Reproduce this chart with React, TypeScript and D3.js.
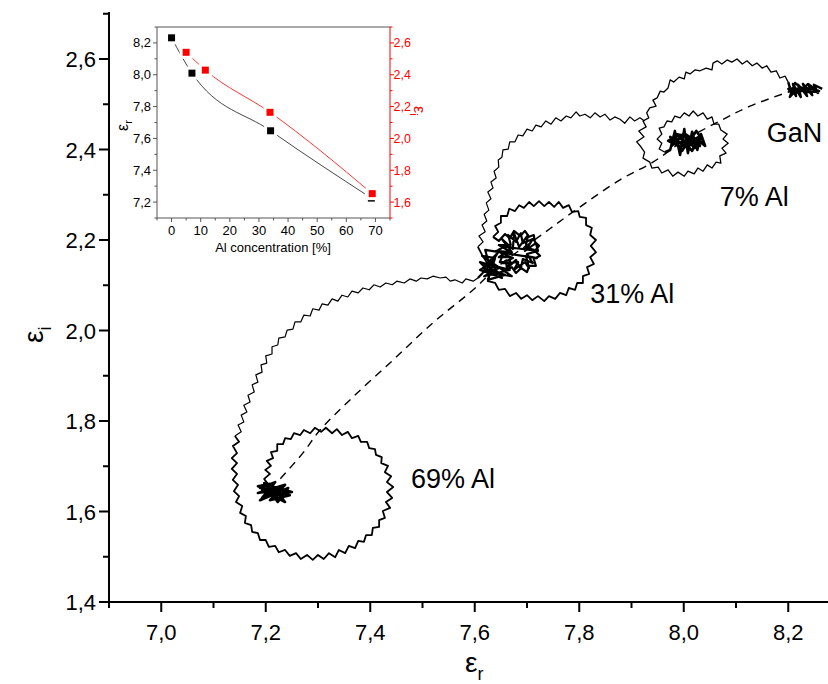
import React from 'react';
import * as d3 from 'd3';

const W = 828;
const H = 684;

// main plot traces, [eps_r, eps_i]
const ganCluster: [number, number][] = [
  [8.265, 2.534], [8.249, 2.543], [8.257, 2.525], [8.240, 2.540], [8.246, 2.520], [8.228, 2.545],
  [8.236, 2.518], [8.219, 2.543], [8.224, 2.516], [8.209, 2.545], [8.215, 2.518], [8.202, 2.540],
  [8.207, 2.523], [8.200, 2.534], [8.223, 2.532], [8.244, 2.536], [8.259, 2.529], [8.234, 2.527],
  [8.217, 2.534], [8.203, 2.516], [8.213, 2.547], [8.230, 2.532], [8.251, 2.534], [8.238, 2.545],
  [8.221, 2.525], [8.205, 2.529], [8.200, 2.549],
];

const ganTo7: [number, number][] = [
  [8.200, 2.549],
  [8.194, 2.562], [8.184, 2.558], [8.177, 2.574], [8.167, 2.571], [8.159, 2.585], [8.150, 2.580],
  [8.140, 2.591], [8.131, 2.585], [8.121, 2.596], [8.112, 2.589], [8.102, 2.600], [8.092, 2.593],
  [8.083, 2.598], [8.073, 2.589], [8.064, 2.596], [8.056, 2.591], [8.054, 2.576], [8.043, 2.580],
  [8.031, 2.574], [8.022, 2.576], [8.012, 2.567], [8.004, 2.571], [8.001, 2.556], [7.991, 2.560],
  [7.981, 2.549], [7.974, 2.554], [7.970, 2.536], [7.962, 2.527], [7.955, 2.529], [7.949, 2.514],
  [7.941, 2.509], [7.947, 2.496], [7.935, 2.492], [7.929, 2.481], [7.933, 2.470], [7.922, 2.463],
  [7.928, 2.450], [7.914, 2.441], [7.924, 2.428], [7.910, 2.417], [7.918, 2.406], [7.925, 2.394],
  [7.922, 2.381], [7.935, 2.372], [7.939, 2.359], [7.951, 2.361], [7.958, 2.348], [7.970, 2.355],
  [7.979, 2.341], [7.989, 2.350], [8.001, 2.341], [8.008, 2.352], [8.020, 2.346], [8.027, 2.359],
  [8.037, 2.352], [8.045, 2.366], [8.054, 2.359], [8.062, 2.372], [8.071, 2.370], [8.069, 2.386],
  [8.081, 2.392], [8.073, 2.403], [8.085, 2.414], [8.075, 2.423], [8.083, 2.434], [8.071, 2.443],
  [8.067, 2.456], [8.058, 2.456], [8.054, 2.472], [8.045, 2.467], [8.037, 2.481], [8.027, 2.474],
  [8.018, 2.485], [8.010, 2.474], [8.001, 2.481], [7.993, 2.470], [7.983, 2.474], [7.977, 2.461],
  [7.968, 2.463], [7.962, 2.450], [7.953, 2.447], [7.958, 2.434], [7.949, 2.423], [7.958, 2.414],
  [7.953, 2.401], [7.964, 2.394],
];

const cluster7: [number, number][] = [
  [7.964, 2.394],
  [7.974, 2.399], [7.983, 2.441], [7.993, 2.388], [8.001, 2.445], [8.008, 2.392], [8.016, 2.439],
  [8.026, 2.399], [8.033, 2.434], [8.041, 2.408], [8.027, 2.421], [8.012, 2.410], [7.993, 2.425],
  [7.977, 2.408], [7.985, 2.434], [8.004, 2.430], [8.020, 2.403], [8.037, 2.419], [8.024, 2.441],
  [8.004, 2.406], [7.989, 2.417], [7.974, 2.428], [7.997, 2.397], [8.012, 2.425], [8.031, 2.408],
  [8.008, 2.419], [7.981, 2.414], [8.001, 2.436], [8.020, 2.421], [7.993, 2.406], [7.970, 2.419],
  [7.989, 2.432], [8.016, 2.397], [8.029, 2.428], [8.004, 2.414],
];

const arc7To31: [number, number][] = [
  [7.925, 2.463], [7.916, 2.470], [7.906, 2.463], [7.897, 2.472], [7.887, 2.458], [7.878, 2.467],
  [7.868, 2.472], [7.859, 2.465], [7.849, 2.478], [7.840, 2.472], [7.830, 2.481], [7.821, 2.470],
  [7.811, 2.478], [7.801, 2.474], [7.794, 2.483], [7.784, 2.470], [7.775, 2.474], [7.765, 2.463],
  [7.755, 2.470], [7.746, 2.456], [7.736, 2.463], [7.727, 2.450], [7.717, 2.454], [7.710, 2.441],
  [7.700, 2.445], [7.692, 2.430], [7.683, 2.432], [7.677, 2.417], [7.667, 2.417], [7.664, 2.401],
  [7.654, 2.399], [7.652, 2.383], [7.645, 2.377], [7.646, 2.361], [7.637, 2.352], [7.641, 2.337],
  [7.631, 2.328], [7.635, 2.315], [7.625, 2.306], [7.631, 2.291], [7.622, 2.282], [7.627, 2.266],
  [7.618, 2.257], [7.623, 2.242], [7.614, 2.233], [7.620, 2.218], [7.608, 2.209], [7.616, 2.196],
  [7.606, 2.185],
];

const loop31: [number, number][] = [
  [7.606, 2.185],
  [7.614, 2.167], [7.623, 2.151], [7.616, 2.138], [7.629, 2.125], [7.625, 2.109], [7.639, 2.105],
  [7.646, 2.090], [7.658, 2.092], [7.667, 2.076], [7.679, 2.083], [7.689, 2.070], [7.700, 2.078],
  [7.710, 2.067], [7.721, 2.076], [7.733, 2.065], [7.742, 2.076], [7.754, 2.070], [7.763, 2.083],
  [7.775, 2.078], [7.780, 2.094], [7.792, 2.090], [7.796, 2.105], [7.807, 2.105], [7.807, 2.120],
  [7.819, 2.125], [7.815, 2.140], [7.828, 2.147], [7.821, 2.162], [7.832, 2.173], [7.822, 2.187],
  [7.832, 2.200], [7.821, 2.211], [7.824, 2.227], [7.813, 2.233], [7.813, 2.249], [7.801, 2.251],
  [7.798, 2.264], [7.786, 2.262], [7.780, 2.277], [7.769, 2.271], [7.761, 2.284], [7.752, 2.273],
  [7.742, 2.284], [7.733, 2.275], [7.723, 2.286], [7.713, 2.275], [7.704, 2.284], [7.694, 2.271],
  [7.685, 2.277], [7.677, 2.264], [7.666, 2.269], [7.662, 2.253], [7.650, 2.253], [7.650, 2.238],
  [7.639, 2.231], [7.645, 2.218], [7.635, 2.207],
];

const core31: [number, number][] = [
  [7.635, 2.207],
  [7.646, 2.198], [7.658, 2.213], [7.667, 2.204], [7.675, 2.220], [7.687, 2.209], [7.696, 2.220],
  [7.704, 2.207], [7.713, 2.211], [7.715, 2.196], [7.723, 2.187], [7.715, 2.176], [7.725, 2.165],
  [7.713, 2.158], [7.717, 2.143], [7.704, 2.143], [7.700, 2.129], [7.689, 2.138], [7.679, 2.127],
  [7.671, 2.140], [7.662, 2.134], [7.660, 2.151], [7.648, 2.151], [7.654, 2.167], [7.645, 2.178],
  [7.656, 2.185],
  [7.721, 2.176], [7.700, 2.182], [7.711, 2.202], [7.692, 2.193], [7.688, 2.215], [7.679, 2.196],
  [7.664, 2.211], [7.669, 2.189], [7.646, 2.189], [7.665, 2.176], [7.646, 2.162], [7.669, 2.162],
  [7.664, 2.140], [7.679, 2.156], [7.688, 2.136], [7.692, 2.158], [7.711, 2.149], [7.700, 2.169],
  [7.721, 2.176], [7.717, 2.193], [7.696, 2.176], [7.702, 2.211], [7.685, 2.185], [7.675, 2.215],
  [7.673, 2.180], [7.652, 2.202], [7.671, 2.173], [7.641, 2.176], [7.673, 2.160], [7.652, 2.149],
  [7.683, 2.151], [7.675, 2.134], [7.696, 2.151], [7.704, 2.138], [7.698, 2.165], [7.719, 2.160],
  [7.620, 2.178], [7.633, 2.123], [7.610, 2.151], [7.648, 2.138], [7.622, 2.129], [7.671, 2.120],
  [7.614, 2.165], [7.639, 2.160], [7.625, 2.112], [7.658, 2.123], [7.616, 2.138], [7.645, 2.173],
  [7.629, 2.145], [7.667, 2.134], [7.618, 2.120], [7.641, 2.134], [7.623, 2.160], [7.652, 2.116],
  [7.610, 2.134], [7.635, 2.151], [7.606, 2.116],
];

const arc31To69: [number, number][] = [
  [7.606, 2.116], [7.597, 2.109], [7.583, 2.114], [7.576, 2.105], [7.562, 2.112], [7.553, 2.109],
  [7.545, 2.118], [7.534, 2.116], [7.520, 2.120], [7.509, 2.114], [7.497, 2.116], [7.488, 2.109],
  [7.476, 2.114], [7.465, 2.105], [7.451, 2.109], [7.442, 2.101], [7.430, 2.105], [7.419, 2.096],
  [7.407, 2.101], [7.398, 2.090], [7.386, 2.094], [7.377, 2.083], [7.365, 2.087], [7.357, 2.074],
  [7.346, 2.078], [7.338, 2.065], [7.327, 2.070], [7.319, 2.056], [7.308, 2.059], [7.302, 2.045],
  [7.290, 2.048], [7.285, 2.032], [7.273, 2.034], [7.267, 2.019], [7.256, 2.019], [7.252, 2.003],
  [7.241, 2.001], [7.237, 1.986], [7.225, 1.983], [7.223, 1.968], [7.212, 1.964], [7.212, 1.948],
  [7.200, 1.944], [7.202, 1.928], [7.191, 1.924], [7.193, 1.908], [7.181, 1.902], [7.185, 1.886],
  [7.174, 1.880], [7.178, 1.864], [7.166, 1.857], [7.170, 1.842], [7.158, 1.835], [7.164, 1.820],
  [7.153, 1.813], [7.158, 1.798], [7.147, 1.791], [7.153, 1.776], [7.141, 1.767],
];

const loop69: [number, number][] = [
  [7.141, 1.767], [7.149, 1.754],
  [7.137, 1.745], [7.145, 1.729], [7.135, 1.718], [7.145, 1.707], [7.135, 1.694], [7.145, 1.683],
  [7.137, 1.670], [7.147, 1.659], [7.139, 1.645], [7.149, 1.634], [7.143, 1.621], [7.155, 1.612],
  [7.151, 1.597], [7.162, 1.590], [7.160, 1.575], [7.172, 1.570], [7.174, 1.555], [7.185, 1.552],
  [7.189, 1.537], [7.200, 1.537], [7.206, 1.522], [7.218, 1.524], [7.225, 1.510], [7.237, 1.515],
  [7.246, 1.502], [7.258, 1.508], [7.267, 1.495], [7.279, 1.504], [7.290, 1.493], [7.300, 1.504],
  [7.311, 1.495], [7.321, 1.508], [7.333, 1.499], [7.340, 1.515], [7.352, 1.508], [7.359, 1.524],
  [7.371, 1.519], [7.377, 1.535], [7.388, 1.533], [7.392, 1.548], [7.403, 1.548], [7.405, 1.564],
  [7.417, 1.566], [7.417, 1.581], [7.428, 1.586], [7.424, 1.601], [7.438, 1.608], [7.430, 1.621],
  [7.442, 1.630], [7.432, 1.643], [7.444, 1.654], [7.432, 1.665], [7.440, 1.678], [7.428, 1.687],
  [7.434, 1.701], [7.421, 1.707], [7.422, 1.720], [7.411, 1.725], [7.409, 1.738], [7.398, 1.740],
  [7.394, 1.754], [7.382, 1.754], [7.377, 1.767], [7.365, 1.762], [7.357, 1.776], [7.346, 1.769],
  [7.336, 1.782], [7.327, 1.773], [7.315, 1.785], [7.306, 1.776], [7.294, 1.785], [7.285, 1.773],
  [7.273, 1.780], [7.266, 1.769], [7.254, 1.773], [7.248, 1.760], [7.237, 1.762], [7.233, 1.749],
  [7.222, 1.749], [7.222, 1.734], [7.210, 1.731], [7.214, 1.718], [7.202, 1.712], [7.210, 1.701],
  [7.199, 1.692], [7.208, 1.683], [7.197, 1.672], [7.204, 1.661],
];

const core69: [number, number][] = [
  [7.204, 1.661],
  [7.189, 1.652], [7.218, 1.665], [7.193, 1.630], [7.227, 1.648], [7.185, 1.641], [7.237, 1.659],
  [7.208, 1.625], [7.246, 1.636], [7.197, 1.663], [7.223, 1.621], [7.243, 1.652], [7.189, 1.625],
  [7.214, 1.648], [7.233, 1.630], [7.202, 1.659], [7.250, 1.643], [7.220, 1.636], [7.193, 1.648],
  [7.237, 1.621], [7.208, 1.661], [7.185, 1.656], [7.229, 1.639],
];

// dashed guide through the end points
const guide: [number, number][] = [
  [8.213, 2.532], [8.127, 2.496], [8.069, 2.463], [8.002, 2.421], [7.941, 2.372], [7.878, 2.333],
  [7.788, 2.262], [7.719, 2.204], [7.648, 2.145], [7.597, 2.090], [7.520, 2.017], [7.444, 1.935],
  [7.367, 1.853], [7.304, 1.780], [7.271, 1.729], [7.222, 1.665],
];

const labels = [
  { text: 'GaN', x: 8.159, y: 2.417 },
  { text: '7% Al', x: 8.069, y: 2.275 },
  { text: '31% Al', x: 7.821, y: 2.061 },
  { text: '69% Al', x: 7.478, y: 1.652 },
];

const xMajor = [7.0, 7.2, 7.4, 7.6, 7.8, 8.0, 8.2];
const xMinor = [6.9, 7.1, 7.3, 7.5, 7.7, 7.9, 8.1];
const yMajor = [1.4, 1.6, 1.8, 2.0, 2.2, 2.4, 2.6];
const yMinor = [1.5, 1.7, 1.9, 2.1, 2.3, 2.5, 2.7];

// inset: values vs Al concentration
const alR = [0, 7, 34, 68.6];
const epsR = [8.232, 8.01, 7.648, 7.225];
const alI = [5, 11.6, 33.8, 68.9];
const epsI = [2.541, 2.429, 2.164, 1.653];

const inXMajor = [0, 10, 20, 30, 40, 50, 60, 70];
const inXMinor = [-5, 5, 15, 25, 35, 45, 55, 65, 75];
const inLMajor = [7.2, 7.4, 7.6, 7.8, 8.0, 8.2];
const inLMinor = [7.1, 7.3, 7.5, 7.7, 7.9, 8.1, 8.3];
const inRMajor = [1.6, 1.8, 2.0, 2.2, 2.4, 2.6];
const inRMinor = [1.5, 1.7, 1.9, 2.1, 2.3, 2.5, 2.7];

const fmt = (v: number) => d3.format('.1f')(v).replace('.', ',');
const FONT = 'Arial, "Liberation Sans", sans-serif';

export default function App() {
  const x = d3.scaleLinear().domain([6.9, 8.3]).range([109, 840.5]);
  const y = d3.scaleLinear().domain([1.4, 2.7]).range([602, 13.75]);
  const line = d3.line<[number, number]>().x(d => x(d[0])).y(d => y(d[1]));
  const dashLine = d3.line<[number, number]>().x(d => x(d[0])).y(d => y(d[1])).curve(d3.curveCatmullRom);

  const ix = d3.scaleLinear().domain([-5, 75]).range([157, 390]);
  const iyL = d3.scaleLinear().domain([7.1, 8.3]).range([218, 27]);
  const iyR = d3.scaleLinear().domain([1.5, 2.7]).range([218, 27]);
  const rPts = alR.map((a, i) => [a, epsR[i]] as [number, number]);
  const iPts = alI.map((a, i) => [a, epsI[i]] as [number, number]);
  const rLine = d3.line<[number, number]>().x(d => ix(d[0])).y(d => iyL(d[1])).curve(d3.curveMonotoneX);
  const iLine = d3.line<[number, number]>().x(d => ix(d[0])).y(d => iyR(d[1])).curve(d3.curveMonotoneX);

  const x0 = 109, y0 = 602;

  const traces: { d: [number, number][]; w: number }[] = [
    { d: ganCluster, w: 2.4 },
    { d: ganTo7, w: 1.3 },
    { d: cluster7, w: 2.6 },
    { d: arc7To31, w: 1.2 },
    { d: loop31, w: 1.8 },
    { d: core31, w: 2.2 },
    { d: arc31To69, w: 1.2 },
    { d: loop69, w: 1.8 },
    { d: core69, w: 2.6 },
  ];

  return (
    <svg width={W} height={H} style={{ position: 'absolute', left: 0, top: 0, background: '#fff' }} fontFamily={FONT}>
      <rect width={W} height={H} fill="#fff" />

      {/* traces */}
      <path d={dashLine(guide) || ''} fill="none" stroke="#000" strokeWidth={1.4} strokeDasharray="8,6" />
      {traces.map((t, i) => (
        <path key={i} d={line(t.d) || ''} fill="none" stroke="#000" strokeWidth={t.w} strokeLinejoin="round" />
      ))}

      {labels.map(l => (
        <text key={l.text} x={x(l.x)} y={y(l.y)} fontSize={27} fill="#000">{l.text}</text>
      ))}

      {/* main axes */}
      <line x1={x0 - 1} x2={W} y1={y0} y2={y0} stroke="#000" strokeWidth={2} />
      <line x1={x0} x2={x0} y1={12} y2={y0 + 1} stroke="#000" strokeWidth={2} />
      {xMajor.map(v => (
        <g key={'xM' + v}>
          <line x1={x(v)} x2={x(v)} y1={y0} y2={y0 + 10} stroke="#000" strokeWidth={2} />
          <text x={x(v)} y={640} fontSize={22} textAnchor="middle">{fmt(v)}</text>
        </g>
      ))}
      {xMinor.map(v => (
        <line key={'xm' + v} x1={x(v)} x2={x(v)} y1={y0} y2={y0 + 6} stroke="#000" strokeWidth={2} />
      ))}
      {yMajor.map(v => (
        <g key={'yM' + v}>
          <line x1={x0 - 10} x2={x0} y1={y(v)} y2={y(v)} stroke="#000" strokeWidth={2} />
          <text x={96} y={y(v) + 8} fontSize={22} textAnchor="end">{fmt(v)}</text>
        </g>
      ))}
      {yMinor.map(v => (
        <line key={'ym' + v} x1={x0 - 6} x2={x0} y1={y(v)} y2={y(v)} stroke="#000" strokeWidth={2} />
      ))}
      <text x={465} y={672} fontSize={28}>ε<tspan fontSize={18} dy={8}>r</tspan></text>
      <text transform="translate(43,343) rotate(-90)" fontSize={28}>ε<tspan fontSize={18} dy={8}>i</tspan></text>

      {/* inset */}
      <rect x={157} y={27} width={233} height={191} fill="#fff" />
      <path d={rLine(rPts) || ''} fill="none" stroke="#333" strokeWidth={0.9} />
      <path d={iLine(iPts) || ''} fill="none" stroke="#f00" strokeWidth={0.8} />
      {rPts.map((d, i) => (
        <rect key={'r' + i} x={ix(d[0]) - 3.5} y={iyL(d[1]) - 3.5} width={7} height={7} fill="#000" stroke="#fff" strokeWidth={6} paintOrder="stroke" />
      ))}
      {iPts.map((d, i) => (
        <rect key={'i' + i} x={ix(d[0]) - 3.5} y={iyR(d[1]) - 3.5} width={7} height={7} fill="#f00" stroke="#fff" strokeWidth={6} paintOrder="stroke" />
      ))}
      <line x1={157} x2={390} y1={27} y2={27} stroke="#555" strokeWidth={1} />
      <line x1={157} x2={390} y1={218} y2={218} stroke="#555" strokeWidth={1} />
      <line x1={157} x2={157} y1={27} y2={218} stroke="#555" strokeWidth={1} />
      <line x1={390} x2={390} y1={27} y2={218} stroke="#f00" strokeWidth={1} />
      {inXMajor.map(v => (
        <g key={'ixM' + v}>
          <line x1={ix(v)} x2={ix(v)} y1={218} y2={222} stroke="#555" />
          <text x={ix(v)} y={235} fontSize={13} textAnchor="middle">{v}</text>
        </g>
      ))}
      {inXMinor.map(v => (
        <line key={'ixm' + v} x1={ix(v)} x2={ix(v)} y1={218} y2={220.5} stroke="#555" />
      ))}
      {inLMajor.map(v => (
        <g key={'ilM' + v}>
          <line x1={153} x2={157} y1={iyL(v)} y2={iyL(v)} stroke="#555" />
          <text x={151} y={iyL(v) + 4.5} fontSize={13} textAnchor="end">{fmt(v)}</text>
        </g>
      ))}
      {inLMinor.map(v => (
        <line key={'ilm' + v} x1={154.5} x2={157} y1={iyL(v)} y2={iyL(v)} stroke="#555" />
      ))}
      {inRMajor.map(v => (
        <g key={'irM' + v}>
          <line x1={390} x2={394} y1={iyR(v)} y2={iyR(v)} stroke="#f00" />
          <text x={393.5} y={iyR(v) + 4.5} fontSize={12.5} fill="#f00">{fmt(v)}</text>
        </g>
      ))}
      {inRMinor.map(v => (
        <line key={'irm' + v} x1={390} x2={392.5} y1={iyR(v)} y2={iyR(v)} stroke="#f00" />
      ))}
      <text x={273} y={252} fontSize={13} textAnchor="middle">Al concentration [%]</text>
      <text transform="translate(128,131) rotate(-90)" fontSize={16}>ε<tspan fontSize={11} dy={4}>r</tspan></text>
      <text transform="translate(414,106) rotate(90)" fontSize={16} fill="#f00">ε<tspan fontSize={11} dy={4}>i</tspan></text>
    </svg>
  );
}
